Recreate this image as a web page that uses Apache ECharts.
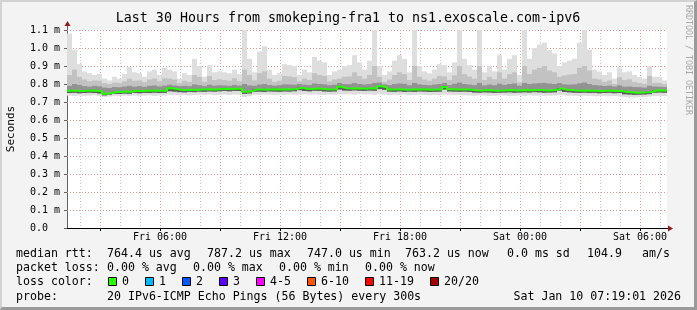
<!DOCTYPE html>
<html><head><meta charset="utf-8">
<script src="https://cdn.jsdelivr.net/npm/echarts@6/dist/echarts.min.js"></script>
<style>
html,body{margin:0;padding:0;background:#f3f3f3;}
#wrap{position:relative;width:697px;height:310px;overflow:hidden;}
#chart{width:697px;height:310px;}
#frame{position:absolute;left:0;top:0;width:697px;height:310px;box-sizing:border-box;border-top:2px solid #d2d2d2;border-left:2px solid #d2d2d2;border-right:3px solid #9a9a9a;border-bottom:3px solid #9a9a9a;pointer-events:none;}
</style></head><body>
<div id="wrap"><div id="chart"></div><div id="frame"></div></div>
<script>
// ---- time base (hours since Fri 00:00) ----
const startHour = 1.35;   // Fri 01:21
const endHour = 31.35;    // Sat 07:21
const stepHours = 0.25;   // one smoke column = 15 min

// ---- smoke data (milliseconds) ----
const medianVals = [
0.762,0.763,0.761,0.762,0.764,0.762,0.760,0.746,0.750,0.757,
0.756,0.758,0.757,0.762,0.761,0.763,0.762,0.764,0.762,0.763,
0.776,0.772,0.767,0.766,0.768,0.767,0.770,0.769,0.771,0.770,
0.772,0.773,0.772,0.774,0.773,0.757,0.760,0.769,0.770,0.768,
0.771,0.770,0.769,0.771,0.770,0.772,0.780,0.773,0.772,0.775,
0.774,0.771,0.770,0.771,0.785,0.776,0.775,0.777,0.775,0.774,
0.776,0.775,0.788,0.782,0.770,0.769,0.771,0.768,0.770,0.769,
0.771,0.770,0.768,0.769,0.770,0.784,0.771,0.770,0.769,0.770,
0.768,0.765,0.764,0.766,0.765,0.763,0.764,0.765,0.766,0.764,
0.765,0.766,0.765,0.767,0.766,0.764,0.765,0.766,0.777,0.768,
0.766,0.764,0.763,0.764,0.762,0.763,0.761,0.762,0.763,0.761,
0.762,0.755,0.754,0.752,0.753,0.754,0.756,0.764,0.765,0.764];

const minVals = [
0.735,0.733,0.736,0.734,0.735,0.737,0.733,0.727,0.730,0.734,
0.732,0.735,0.733,0.736,0.734,0.735,0.737,0.734,0.736,0.735,
0.740,0.738,0.737,0.739,0.736,0.738,0.740,0.739,0.741,0.738,
0.740,0.741,0.739,0.742,0.740,0.728,0.732,0.740,0.739,0.741,
0.740,0.738,0.741,0.739,0.742,0.740,0.741,0.743,0.741,0.742,
0.740,0.739,0.741,0.740,0.744,0.742,0.743,0.741,0.744,0.742,
0.743,0.740,0.745,0.741,0.739,0.740,0.738,0.741,0.739,0.740,
0.741,0.739,0.738,0.740,0.739,0.741,0.740,0.738,0.739,0.737,
0.736,0.735,0.737,0.736,0.734,0.735,0.737,0.736,0.734,0.735,
0.736,0.734,0.737,0.735,0.736,0.734,0.735,0.736,0.738,0.737,
0.735,0.734,0.733,0.735,0.734,0.732,0.733,0.734,0.732,0.733,
0.731,0.727,0.726,0.725,0.727,0.728,0.730,0.733,0.734,0.733];

const lowVals = [
0.750,0.751,0.749,0.750,0.752,0.750,0.748,0.737,0.741,0.746,
0.745,0.747,0.746,0.750,0.749,0.751,0.750,0.752,0.750,0.751,
0.760,0.758,0.755,0.754,0.756,0.755,0.758,0.757,0.759,0.758,
0.760,0.761,0.760,0.762,0.761,0.745,0.748,0.757,0.758,0.756,
0.759,0.758,0.757,0.759,0.758,0.760,0.766,0.761,0.760,0.763,
0.762,0.759,0.758,0.759,0.770,0.764,0.763,0.765,0.763,0.762,
0.764,0.763,0.772,0.768,0.758,0.757,0.759,0.756,0.758,0.757,
0.759,0.758,0.756,0.757,0.758,0.770,0.759,0.758,0.757,0.758,
0.756,0.753,0.752,0.754,0.753,0.751,0.752,0.753,0.754,0.752,
0.753,0.754,0.753,0.755,0.754,0.752,0.753,0.754,0.764,0.756,
0.754,0.752,0.751,0.752,0.750,0.751,0.749,0.750,0.751,0.749,
0.750,0.743,0.742,0.740,0.741,0.742,0.744,0.752,0.753,0.752];

const highVals = [
0.790,0.800,0.795,0.788,0.785,0.790,0.787,0.780,0.778,0.783,
0.782,0.786,0.790,0.785,0.788,0.784,0.790,0.792,0.786,0.791,
0.796,0.792,0.789,0.790,0.788,0.798,0.794,0.788,0.796,0.791,
0.793,0.792,0.790,0.795,0.791,0.800,0.792,0.790,0.797,0.800,
0.794,0.791,0.793,0.798,0.797,0.796,0.800,0.796,0.794,0.803,
0.800,0.798,0.793,0.796,0.806,0.800,0.799,0.805,0.800,0.797,
0.800,0.806,0.808,0.798,0.794,0.800,0.803,0.801,0.793,0.806,
0.798,0.795,0.793,0.797,0.800,0.806,0.794,0.801,0.808,0.800,
0.797,0.794,0.806,0.792,0.797,0.793,0.802,0.795,0.800,0.803,
0.791,0.806,0.800,0.803,0.805,0.806,0.803,0.800,0.805,0.798,
0.797,0.798,0.804,0.808,0.800,0.794,0.792,0.789,0.791,0.786,
0.793,0.785,0.786,0.783,0.782,0.780,0.790,0.786,0.785,0.783];

const upperVals = [
0.850,0.880,0.840,0.825,0.815,0.820,0.818,0.805,0.800,0.808,
0.806,0.815,0.830,0.818,0.820,0.810,0.825,0.830,0.815,0.832,
0.830,0.825,0.805,0.818,0.812,0.850,0.840,0.812,0.845,0.822,
0.826,0.822,0.818,0.832,0.815,0.880,0.850,0.820,0.860,0.870,
0.830,0.812,0.818,0.845,0.842,0.838,0.815,0.830,0.822,0.860,
0.850,0.845,0.815,0.825,0.830,0.840,0.842,0.865,0.845,0.830,
0.850,0.900,0.840,0.812,0.825,0.850,0.865,0.855,0.822,0.900,
0.840,0.825,0.818,0.830,0.845,0.842,0.822,0.848,0.900,0.855,
0.842,0.830,0.900,0.822,0.840,0.826,0.865,0.830,0.855,0.865,
0.810,0.900,0.855,0.880,0.890,0.900,0.875,0.865,0.840,0.848,
0.852,0.855,0.890,0.900,0.875,0.830,0.826,0.812,0.820,0.800,
0.838,0.822,0.826,0.812,0.806,0.800,0.845,0.806,0.806,0.800];

const maxVals = [
1.08,0.99,0.91,0.87,0.86,0.85,0.855,0.83,0.82,0.84,
0.83,0.855,0.894,0.865,0.86,0.84,0.87,0.88,0.85,0.89,
0.88,0.87,0.83,0.86,0.85,0.94,0.90,0.84,0.905,0.865,
0.87,0.865,0.86,0.88,0.855,1.10,0.94,0.865,0.98,1.01,
0.88,0.85,0.86,0.91,0.905,0.90,0.85,0.88,0.865,0.95,
0.93,0.92,0.85,0.87,0.88,0.90,0.905,0.96,0.92,0.88,
0.93,1.10,0.90,0.85,0.87,0.93,0.96,0.94,0.865,1.10,
0.90,0.87,0.86,0.88,0.91,0.905,0.865,0.92,1.10,0.94,
0.905,0.88,1.10,0.865,0.90,0.87,0.96,0.88,0.94,0.96,
0.85,1.10,0.94,1.00,1.02,1.03,0.99,0.97,0.90,0.92,
0.93,0.94,1.03,1.10,0.99,0.88,0.87,0.85,0.865,0.83,
0.89,0.865,0.87,0.85,0.84,0.83,0.90,0.84,0.84,0.82];

// ---- axes ----
const yMin = 0, yMax = 1.1, yStep = 0.1;
const yGridVals = [0.1,0.2,0.3,0.4,0.5,0.6,0.7,0.8,0.9,1.0,1.1];
const xLabelHours = [6, 12, 18, 24, 30];
const xLabelTexts = ['Fri 06:00', 'Fri 12:00', 'Fri 18:00', 'Sat 00:00', 'Sat 06:00'];
const majorGridHours = [3,6,9,12,15,18,21,24,27,30];
const minorGridHours = [2,4,5,7,8,10,11,13,14,16,17,19,20,22,23,25,26,28,29,31];

// ---- texts ----
const titleText = 'Last 30 Hours from smokeping-fra1 to ns1.exoscale.com-ipv6';
const yAxisName = 'Seconds';
const sideText = 'RRDTOOL / TOBI OETIKER';
const rttHead = 'median rtt:';
const rttItems = ['764.4 us avg', '787.2 us max', '747.0 us min', '763.2 us now', '0.0 ms sd', '104.9', 'am/s'];
const lossHead = 'packet loss:';
const lossItems = ['0.00 % avg', '0.00 % max', '0.00 % min', '0.00 % now'];
const colorHead = 'loss color:';
const lossLabels = ['0', '1', '2', '3', '4-5', '6-10', '11-19', '20/20'];
const lossColors = ['#26ff00', '#00b8ff', '#0059ff', '#5e00ff', '#ff00ff', '#ff5500', '#ff0000', '#a00000'];
const probeHead = 'probe:';
const probeText = '20 IPv6-ICMP Echo Pings (56 Bytes) every 300s';
const stampText = 'Sat Jan 10 07:19:01 2026';

// ---- layout ----
const MONO = "'DejaVu Sans Mono', monospace";
const gridBox = {left: 67, top: 30, width: 600, height: 198};
const rttX = [107, 207, 307, 405, 507, 587, 642];
const lossX = [107, 193, 279, 365];
const rowY = [253.5, 268, 282, 296.5];

const timeOf = i => startHour + i * stepHours;

function bandSeries(loArr, hiArr, color, z) {
  return {
    type: 'custom', z: z, silent: true, animation: false, clip: true,
    data: loArr.map((lo, i) => [timeOf(i), lo, hiArr[i]]),
    encode: {x: 0, y: [1, 2]},
    renderItem: function (params, api) {
      const t = api.value(0);
      const a = api.coord([t, api.value(2)]);
      const b = api.coord([t + stepHours, api.value(1)]);
      return {type: 'rect', shape: {x: a[0], y: a[1], width: b[0] - a[0], height: b[1] - a[1]},
              style: {fill: color}};
    }
  };
}

function vGridSeries(hours, color, z) {
  return {
    type: 'custom', z: z, silent: true, animation: false,
    data: hours.map(h => [h, yMin]),
    encode: {x: 0, y: 1},
    renderItem: function (params, api) {
      const top = api.coord([api.value(0), yMax]);
      const bot = api.coord([api.value(0), yMin]);
      const x = Math.round(top[0]) + 0.5;
      return {type: 'line', shape: {x1: x, y1: top[1], x2: x, y2: bot[1]},
              style: {stroke: color, lineWidth: 1, lineDash: [1, 2]}};
    }
  };
}

function hGridSeries(vals, color, z) {
  return {
    type: 'custom', z: z, silent: true, animation: false,
    data: vals.map(v => [startHour, v]),
    encode: {x: 0, y: 1},
    renderItem: function (params, api) {
      const l = api.coord([startHour, api.value(1)]);
      const r = api.coord([endHour, api.value(1)]);
      const y = Math.round(l[1]) + 0.5;
      return {type: 'line', shape: {x1: l[0], y1: y, x2: r[0], y2: y},
              style: {stroke: color, lineWidth: 1, lineDash: [1, 2]}};
    }
  };
}

const medianLine = medianVals.map((v, i) => [timeOf(i), v]);
medianLine.push([endHour, medianVals[medianVals.length - 1]]);

const chart = echarts.init(document.getElementById('chart'), null, {renderer: 'canvas'});
chart.setOption({
  animation: false,
  backgroundColor: '#f3f3f3',
  grid: Object.assign({show: true, backgroundColor: '#ffffff', borderWidth: 0,
                       containLabel: false, outerBoundsMode: 'none'}, gridBox),
  xAxis: {
    type: 'value', min: startHour, max: endHour,
    axisLine: {show: true, lineStyle: {color: '#000', width: 1}},
    axisTick: {show: true, customValues: majorGridHours, length: 3, lineStyle: {color: '#000'}},
    axisLabel: {customValues: xLabelHours, margin: 4, color: '#000', fontFamily: MONO, fontSize: 10,
      formatter: v => xLabelTexts[xLabelHours.indexOf(v)] || ''},
    splitLine: {show: false}
  },
  yAxis: {
    type: 'value', min: yMin, max: yMax, interval: yStep,
    name: yAxisName, nameLocation: 'middle', nameGap: 50, nameRotate: 90,
    nameTextStyle: {fontFamily: MONO, fontSize: 11, color: '#000'},
    axisLine: {show: true, lineStyle: {color: '#606060', width: 1}},
    axisTick: {show: true, length: 3, lineStyle: {color: '#606060'}},
    axisLabel: {align: 'left', margin: 37, color: '#000', fontFamily: MONO, fontSize: 10,
      formatter: v => (v === 0 ? '0.0' : v.toFixed(1) + ' m')},
    splitLine: {show: false}
  },
  series: [
    vGridSeries(minorGridHours, '#c4c4c4', 1),
    vGridSeries(majorGridHours, '#e79a9a', 1),
    hGridSeries(yGridVals, '#e79a9a', 1),
    bandSeries(minVals, maxVals, '#dedede', 2),
    bandSeries(lowVals, upperVals, '#c2c2c2', 3),
    bandSeries(lowVals, highVals, '#929292', 4),
    bandSeries(lowVals, medianVals, '#5c5c5c', 5),
    {type: 'line', z: 8, silent: true, animation: false, step: 'end', symbol: 'none',
     data: medianLine, lineStyle: {color: '#26ff00', width: 2}}
  ]
});

// ---- decorations positioned through the axes ----
const topLeft = chart.convertToPixel({xAxisIndex: 0, yAxisIndex: 0}, [startHour, yMax]);
const botRight = chart.convertToPixel({xAxisIndex: 0, yAxisIndex: 0}, [endHour, yMin]);
const ax = Math.round(topLeft[0]) + 0.5, ay = topLeft[1];
const bx = botRight[0], by = Math.round(botRight[1]) + 0.5;

const g = [];
function txt(text, x, y, size, align, color, rot) {
  g.push({type: 'text', x: x, y: y, rotation: rot || 0, silent: true,
    style: {text: text, fill: color || '#000', fontFamily: MONO, fontSize: size,
      textAlign: align || 'left', align: align || 'left', textVerticalAlign: 'middle', verticalAlign: 'middle'}});
}
txt(titleText, 348, 19, 13.3, 'center');
txt(sideText, 688, 60, 8.3, 'center', '#a8a8a8', -Math.PI / 2);
// legend rows
txt(rttHead, 16, rowY[0], 11.6);
rttItems.forEach((s, i) => txt(s, rttX[i], rowY[0], 11.6));
txt(lossHead, 16, rowY[1], 11.6);
lossItems.forEach((s, i) => txt(s, lossX[i], rowY[1], 11.6));
txt(colorHead, 16, rowY[2], 11.6);
let bxPos = 108;
lossLabels.forEach((s, i) => {
  g.push({type: 'rect', silent: true, shape: {x: bxPos + 0.5, y: rowY[2] - 4.5, width: 8, height: 8},
          style: {fill: lossColors[i], stroke: '#000', lineWidth: 1}});
  txt(s, bxPos + 14, rowY[2], 11.6);
  bxPos += 14 + 7 * s.length + 16;
});
txt(probeHead, 16, rowY[3], 11.6);
txt(probeText, 107, rowY[3], 11.6);
txt(stampText, 681, rowY[3], 11.6, 'right');
// axis arrows
g.push({type: 'line', silent: true, shape: {x1: ax, y1: ay, x2: ax, y2: ay - 5}, style: {stroke: '#606060', lineWidth: 1}});
g.push({type: 'polygon', silent: true, shape: {points: [[ax, ay - 9], [ax - 3, ay - 4], [ax + 3, ay - 4]]}, style: {fill: '#8e1c1c'}});
g.push({type: 'line', silent: true, shape: {x1: bx, y1: by, x2: bx + 2, y2: by}, style: {stroke: '#000', lineWidth: 1}});
g.push({type: 'polygon', silent: true, shape: {points: [[bx + 6, by], [bx + 1, by - 3], [bx + 1, by + 3]]}, style: {fill: '#8e1c1c'}});
chart.setOption({graphic: {elements: g}});
</script>
</body></html>
